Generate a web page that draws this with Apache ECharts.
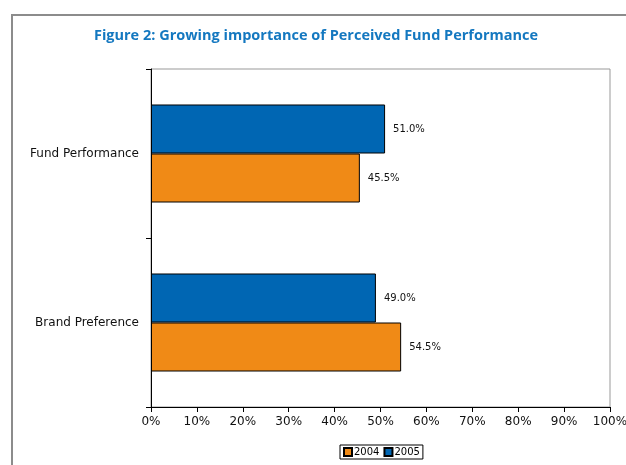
<!DOCTYPE html>
<html>
<head>
<meta charset="utf-8">
<script src="https://cdn.jsdelivr.net/npm/echarts@6/dist/echarts.min.js"></script>
<style>
  html, body { margin: 0; padding: 0; background: #fff; }
  #chart { width: 626px; height: 465px; }
</style>
</head>
<body>
<div id="chart"></div>
<script>
// Survey categories, top to bottom
const categories = ['Fund Performance', 'Brand Preference'];
// Share of respondents per year (%)
const values2005 = [51.0, 49.0];
const values2004 = [45.5, 54.5];
// Percentage axis
const axisMin = 0;
const axisMax = 100;
const axisStep = 10;

const BLUE = '#0066B3';
const ORANGE = '#F08A16';

const chart = echarts.init(document.getElementById('chart'));

const labelStyle = {
  show: true,
  position: 'right',
  distance: 8,
  fontFamily: 'DejaVu Sans',
  fontSize: 10,
  color: '#111',
  formatter: p => p.value.toFixed(1) + '%'
};

chart.setOption({
  animation: false,
  backgroundColor: '#fff',
  title: {
    text: 'Figure 2: Growing importance of Perceived Fund Performance',
    left: 311,
    textAlign: 'center',
    top: 23,
    textStyle: {
      fontFamily: 'Open Sans',
      fontWeight: 'bold',
      fontSize: 14.5,
      color: '#1478C0'
    }
  },
  graphic: [
    { type: 'line', shape: { x1: 12, y1: 15, x2: 12, y2: 465 }, style: { stroke: '#8c8c8c', lineWidth: 2 } },
    { type: 'line', shape: { x1: 11, y1: 15, x2: 626, y2: 15 }, style: { stroke: '#8c8c8c', lineWidth: 2 } }
  ],
  legend: {
    data: ['2004', '2005'],
    left: 340,
    top: 445,
    orient: 'horizontal',
    icon: 'rect',
    itemWidth: 8,
    itemHeight: 8,
    itemGap: 4,
    padding: [2, 3, 2, 3],
    borderColor: '#000',
    borderWidth: 1,
    borderRadius: 0,
    textStyle: { fontFamily: 'DejaVu Sans', fontSize: 10, color: '#000', padding: [0, 0, 0, -3] }
  },
  grid: {
    left: 151,
    right: 16,
    top: 69,
    bottom: 58,
    outerBoundsMode: 'none',
    containLabel: false,
    show: true,
    borderColor: '#999',
    borderWidth: 1
  },
  xAxis: {
    type: 'value',
    min: axisMin,
    max: axisMax,
    interval: axisStep,
    axisLine: { show: true, lineStyle: { color: '#000', width: 1 } },
    axisTick: { show: true, length: 5, lineStyle: { color: '#000' } },
    splitLine: { show: false },
    axisLabel: {
      margin: 9,
      fontFamily: 'DejaVu Sans',
      fontSize: 12,
      color: '#111',
      formatter: v => v + '%'
    }
  },
  yAxis: {
    type: 'category',
    data: categories,
    inverse: true,
    axisLine: { show: true, lineStyle: { color: '#000', width: 1 } },
    axisTick: { show: true, length: 5, lineStyle: { color: '#000' } },
    axisLabel: {
      margin: 12,
      fontFamily: 'DejaVu Sans',
      fontSize: 12,
      color: '#111'
    }
  },
  series: [
    {
      name: '2005',
      type: 'bar',
      data: values2005,
      barGap: '0%',
      barCategoryGap: '42%',
      itemStyle: { color: BLUE, borderColor: '#000', borderWidth: 1 },
      label: labelStyle
    },
    {
      name: '2004',
      type: 'bar',
      data: values2004,
      barGap: '0%',
      barCategoryGap: '42%',
      itemStyle: { color: ORANGE, borderColor: '#000', borderWidth: 1 },
      label: labelStyle
    }
  ]
});
</script>
</body>
</html>
